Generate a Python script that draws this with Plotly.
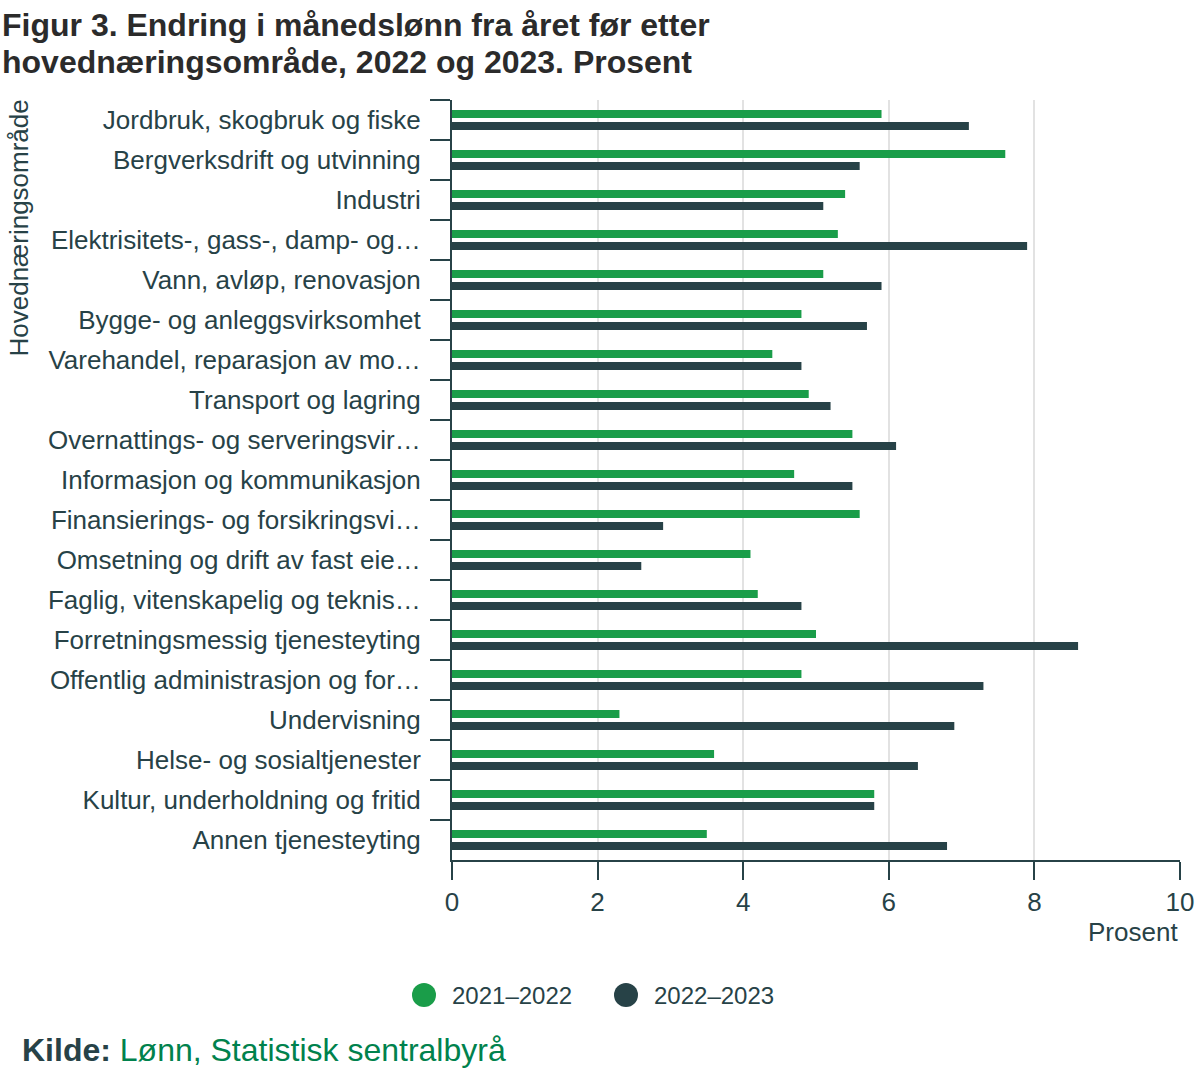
import plotly.graph_objects as go

categories = [
    "Jordbruk, skogbruk og fiske",
    "Bergverksdrift og utvinning",
    "Industri",
    "Elektrisitets-, gass-, damp- og…",
    "Vann, avløp, renovasjon",
    "Bygge- og anleggsvirksomhet",
    "Varehandel, reparasjon av mo…",
    "Transport og lagring",
    "Overnattings- og serveringsvir…",
    "Informasjon og kommunikasjon",
    "Finansierings- og forsikringsvi…",
    "Omsetning og drift av fast eie…",
    "Faglig, vitenskapelig og teknis…",
    "Forretningsmessig tjenesteyting",
    "Offentlig administrasjon og for…",
    "Undervisning",
    "Helse- og sosialtjenester",
    "Kultur, underholdning og fritid",
    "Annen tjenesteyting",
]
series_names = ["2021–2022", "2022–2023"]
values_2122 = [5.9, 7.6, 5.4, 5.3, 5.1, 4.8, 4.4, 4.9, 5.5, 4.7, 5.6, 4.1, 4.2, 5.0, 4.8, 2.3, 3.6, 5.8, 3.5]
values_2223 = [7.1, 5.6, 5.1, 7.9, 5.9, 5.7, 4.8, 5.2, 6.1, 5.5, 2.9, 2.6, 4.8, 8.6, 7.3, 6.9, 6.4, 5.8, 6.8]
x_ticks = [0, 2, 4, 6, 8, 10]

GREEN = "#1a9d49"
DARK = "#274247"
FONT = "Liberation Sans, Arial, sans-serif"
W, H = 1200, 1080
L, R, T, B = 452, 20, 100, 220
PW, PH = W - L - R, H - T - B


def px(x):
    return (x - L) / PW


def py(y):
    return (H - B - y) / PH


fig = go.Figure()
for name, vals, col in [(series_names[0], values_2122, GREEN), (series_names[1], values_2223, DARK)]:
    fig.add_trace(go.Bar(x=vals, y=categories, orientation="h", name=name,
                         marker=dict(color=col, line=dict(width=0)), showlegend=False))

fig.update_layout(
    width=W, height=H,
    paper_bgcolor="white", plot_bgcolor="white",
    margin=dict(l=L, r=R, t=T, b=B, autoexpand=False),
    barmode="group", bargap=0.4, bargroupgap=1 / 3,
    font=dict(family=FONT, color=DARK, size=26),
    showlegend=False,
    xaxis=dict(range=[0, 10], tickvals=x_ticks, showgrid=True, gridcolor="#e2e2e2", gridwidth=2,
               showline=True, linecolor=DARK, linewidth=2, ticks="outside", ticklen=18, tickwidth=2,
               tickcolor=DARK, tickfont=dict(size=26, color=DARK), zeroline=False, automargin=False),
    yaxis=dict(autorange="reversed", showline=True, linecolor=DARK, linewidth=2,
               ticks="outside", tickson="boundaries", ticklen=20, tickwidth=2, tickcolor=DARK,
               tickfont=dict(size=26, color=DARK), showgrid=False, ticklabelstandoff=24,
               automargin=False),
)

# Title
fig.add_annotation(text="<b>Figur 3. Endring i månedslønn fra året før etter</b>",
                   xref="paper", yref="paper", x=px(0), y=py(25),
                   xanchor="left", yanchor="middle", showarrow=False,
                   font=dict(size=32, color="#2b2b2b"))
fig.add_annotation(text="<b>hovednæringsområde, 2022 og 2023. Prosent</b>",
                   xref="paper", yref="paper", x=px(0), y=py(62),
                   xanchor="left", yanchor="middle", showarrow=False,
                   font=dict(size=32, color="#2b2b2b"))
# Axis titles
fig.add_annotation(text="Prosent", xref="paper", yref="paper", x=1, y=py(932),
                   xanchor="right", yanchor="middle", showarrow=False,
                   font=dict(size=26, color=DARK))
fig.add_annotation(text="Hovednæringsområde", xref="paper", yref="paper", x=px(18), y=py(98),
                   xanchor="center", yanchor="top", textangle=-90, showarrow=False,
                   font=dict(size=26, color=DARK))
# Legend (circle markers)
legend_pos = [(424, 450), (626, 652)]
for (cx, tx), name, col in zip(legend_pos, series_names, [GREEN, DARK]):
    fig.add_shape(type="circle", xref="paper", yref="paper",
                  x0=px(cx - 12), x1=px(cx + 12), y0=py(995 + 12), y1=py(995 - 12),
                  fillcolor=col, line=dict(width=0))
    fig.add_annotation(text=name, xref="paper", yref="paper", x=px(tx), y=py(995),
                       xanchor="left", yanchor="middle", showarrow=False,
                       font=dict(size=24, color=DARK))
# Source
fig.add_annotation(text="<b>Kilde:</b> <span style='color:#00824d'>Lønn, Statistisk sentralbyrå</span>",
                   xref="paper", yref="paper", x=px(20), y=py(1050),
                   xanchor="left", yanchor="middle", showarrow=False,
                   font=dict(size=32, color=DARK))

fig.write_html("out.html", config={"displayModeBar": False},
               post_script="document.body.style.margin='0px';")
